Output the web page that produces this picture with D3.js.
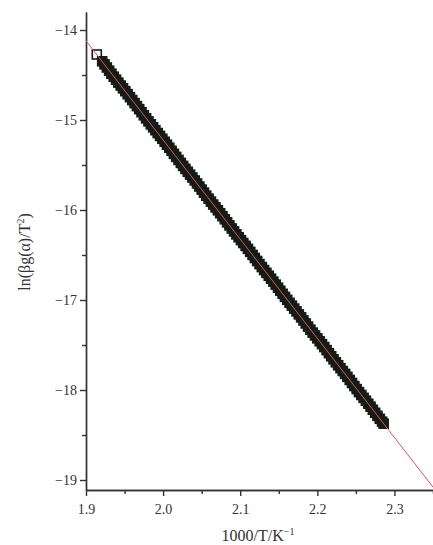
<!DOCTYPE html>
<html>
<head>
<meta charset="utf-8">
<script src="https://cdn.jsdelivr.net/npm/d3@7"></script>
<style>
    body { margin: 0; background: #fff; }
    svg { display: block; }
    .axis text { font-family: "Liberation Serif", "Times New Roman", serif; font-size: 14px; fill: #333; }
    .axis path, .axis line { stroke: #333; stroke-width: 1.4; }
    .title { font-family: "Liberation Serif", "Times New Roman", serif; font-size: 16px; fill: #333; }
</style>
</head>
<body>
<div id="chart"></div>
<script>
// measured points, 1000/T vs ln(beta g(alpha)/T^2)
const invT = [1.914, 1.921, 1.924, 1.927, 1.930, 1.933, 1.936, 1.939, 1.942, 1.945, 1.948,
    1.951, 1.954, 1.957, 1.960, 1.963, 1.966, 1.969, 1.972, 1.975, 1.978,
    1.981, 1.984, 1.987, 1.990, 1.993, 1.996, 1.999, 2.002, 2.005, 2.008,
    2.011, 2.014, 2.017, 2.020, 2.023, 2.026, 2.029, 2.032, 2.035, 2.038,
    2.041, 2.044, 2.047, 2.050, 2.053, 2.056, 2.059, 2.062, 2.065, 2.068,
    2.071, 2.074, 2.077, 2.080, 2.083, 2.086, 2.089, 2.092, 2.095, 2.098,
    2.101, 2.104, 2.107, 2.110, 2.113, 2.116, 2.119, 2.122, 2.125, 2.128,
    2.131, 2.134, 2.137, 2.140, 2.143, 2.146, 2.149, 2.152, 2.155, 2.158,
    2.161, 2.164, 2.167, 2.170, 2.173, 2.176, 2.179, 2.182, 2.185, 2.188,
    2.191, 2.194, 2.197, 2.200, 2.203, 2.206, 2.209, 2.212, 2.215, 2.218,
    2.221, 2.224, 2.227, 2.230, 2.233, 2.236, 2.239, 2.242, 2.245, 2.248,
    2.251, 2.254, 2.257, 2.260, 2.263, 2.266, 2.269, 2.272, 2.275, 2.278,
    2.281, 2.284, 2.286]
const lnG = [-14.272, -14.348, -14.382, -14.417, -14.452, -14.486, -14.519, -14.552, -14.585, -14.617, -14.648,
    -14.680, -14.713, -14.746, -14.779, -14.812, -14.846, -14.879, -14.913, -14.948, -14.982,
    -15.015, -15.048, -15.081, -15.113, -15.145, -15.177, -15.209, -15.242, -15.275, -15.308,
    -15.342, -15.376, -15.410, -15.444, -15.477, -15.510, -15.543, -15.575, -15.607, -15.639,
    -15.672, -15.705, -15.739, -15.773, -15.807, -15.841, -15.874, -15.907, -15.939, -15.971,
    -16.003, -16.036, -16.069, -16.103, -16.137, -16.171, -16.205, -16.238, -16.271, -16.303,
    -16.335, -16.367, -16.399, -16.432, -16.465, -16.499, -16.533, -16.567, -16.601, -16.634,
    -16.667, -16.699, -16.731, -16.763, -16.796, -16.829, -16.863, -16.897, -16.931, -16.965,
    -16.998, -17.031, -17.063, -17.095, -17.127, -17.160, -17.193, -17.227, -17.261, -17.295,
    -17.329, -17.362, -17.394, -17.426, -17.458, -17.490, -17.523, -17.557, -17.591, -17.625,
    -17.659, -17.692, -17.725, -17.757, -17.789, -17.821, -17.854, -17.888, -17.922, -17.956,
    -17.990, -18.023, -18.055, -18.087, -18.119, -18.152, -18.185, -18.219, -18.253, -18.287,
    -18.320, -18.352, -18.374]

// linear fit
const fitX = [1.9, 2.35]
const fitY = [-14.12, -19.079]

const xTicks = [1.9, 2.0, 2.1, 2.2, 2.3]
const xMinor = [1.95, 2.05, 2.15, 2.25, 2.35]
const yTicks = [-14, -15, -16, -17, -18, -19]
const yMinor = [-14.5, -15.5, -16.5, -17.5, -18.5]

var width = 433,
    height = 545;
const margin = ({ top: 12, right: 0, bottom: 55, left: 86 })

var svg = d3.select("#chart").append("svg")
    .attr("width", width)
    .attr("height", height)

const x = d3.scaleLinear()
    .domain([1.9, 2.35])
    .range([margin.left, width - margin.right])

const y = d3.scaleLinear()
    .domain([-19.111, -13.8])
    .range([height - margin.bottom, margin.top])

const fmtMinus = d => d3.format(".0f")(d).replace("-", "\u2212")

// minor ticks first
svg.append("g")
    .attr("class", "axis")
    .attr("transform", `translate(0,${height - margin.bottom})`)
    .call(d3.axisBottom(x).tickValues(xMinor).tickSize(4).tickSizeOuter(0).tickFormat(""))

svg.append("g")
    .attr("class", "axis")
    .attr("transform", `translate(${margin.left},0)`)
    .call(d3.axisLeft(y).tickValues(yMinor).tickSize(4).tickSizeOuter(0).tickFormat(""))

svg.append("g")
    .attr("class", "axis")
    .attr("transform", `translate(0,${height - margin.bottom})`)
    .call(d3.axisBottom(x).tickValues(xTicks).tickSize(6).tickSizeOuter(0).tickPadding(8).tickFormat(d3.format(".1f")))

svg.append("g")
    .attr("class", "axis")
    .attr("transform", `translate(${margin.left},0)`)
    .call(d3.axisLeft(y).tickValues(yTicks).tickSize(6).tickSizeOuter(0).tickPadding(3).tickFormat(fmtMinus))

// points: squares overlap into a solid band, only the first one stays open
const pts = invT.map((v, i) => ({ x: v, y: lnG[i] }))
const s = 9

svg.append("g")
    .selectAll("rect")
    .data(pts)
    .join("rect")
    .attr("x", d => x(d.x) - s / 2)
    .attr("y", d => y(d.y) - s / 2)
    .attr("width", s)
    .attr("height", s)
    .attr("fill", (d, i) => i == 0 ? "#fff" : "#141c18")
    .attr("stroke", "#141c18")
    .attr("stroke-width", 1.6)

svg.append("clipPath")
    .attr("id", "plot-clip")
    .append("rect")
    .attr("x", margin.left)
    .attr("y", margin.top)
    .attr("width", width - margin.left - margin.right)
    .attr("height", height - margin.bottom - margin.top)

svg.append("path")
    .datum(fitX.map((v, i) => [v, fitY[i]]))
    .attr("clip-path", "url(#plot-clip)")
    .attr("fill", "none")
    .attr("stroke", "#e5505c")
    .attr("stroke-width", 1)
    .attr("d", d3.line().x(d => x(d[0])).y(d => y(d[1])))

// axis titles
const xt = svg.append("text")
    .attr("class", "title")
    .attr("x", 258)
    .attr("y", 541)
    .attr("text-anchor", "middle")
xt.append("tspan").text("1000/T/K")
xt.append("tspan").attr("dy", -6).attr("font-size", 10).text("\u22121")

const yt = svg.append("text")
    .attr("class", "title")
    .attr("transform", "translate(30,252) rotate(-90)")
    .attr("text-anchor", "middle")
yt.append("tspan").text("ln(\u03b2g(\u03b1)/T")
yt.append("tspan").attr("dy", -6).attr("font-size", 10).text("2")
yt.append("tspan").attr("dy", 6).text(")")
</script>
</body>
</html>
